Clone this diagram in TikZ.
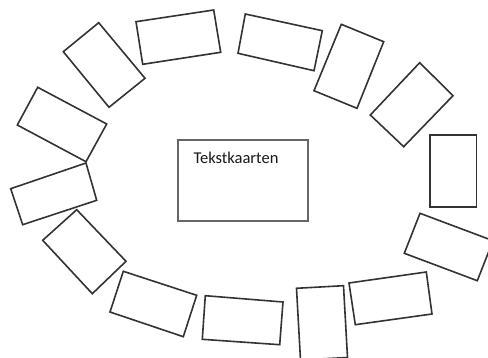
\documentclass[tikz,border=0pt]{standalone}
\usepackage{fontspec}
\setmainfont{Carlito}
\begin{document}
\begin{tikzpicture}[x=1pt,y=-1pt,
  card/.style={draw=black!80, line width=1.6pt, line join=miter},
  mainbox/.style={draw=black!60, line width=2pt, fill=white, minimum width=130.3pt, minimum height=81pt, inner sep=0pt},
  lbl/.style={font=\fontsize{16.5}{18}\selectfont, text=black!90, inner sep=0pt, anchor=base west}]
\useasboundingbox (0,0) rectangle (488,358);
\begin{scope}
\clip (0,0) rectangle (488,358);
% cards around the ellipse
\draw[card] (63.3,51.7) -- (98.7,22.7) -- (145,78.3) -- (109,107.3) -- cycle;
\draw[card] (136,21.7) -- (213.7,10) -- (220.7,52.3) -- (142.7,64.3) -- cycle;
\draw[card] (245.3,14) -- (322.3,30.7) -- (314,70.7) -- (238,53.3) -- cycle;
\draw[card] (341.3,24.3) -- (383.7,41.7) -- (357,108.3) -- (314,90.7) -- cycle;
\draw[card] (419.7,62.7) -- (453,95.7) -- (403.7,146.7) -- (370.3,115) -- cycle;
\draw[card] (429.7,135) -- (476.3,135) -- (476.3,207.3) -- (429.7,207.3) -- cycle;
\draw[card] (420,213.3) -- (493,240.7) -- (477.3,280.7) -- (404.3,253.3) -- cycle;
\draw[card] (349,283) -- (426.3,272) -- (432,314) -- (355.3,324.7) -- cycle;
\draw[card] (296.5,288.3) -- (343.5,285.7) -- (347.5,357.5) -- (300.5,360) -- cycle;
\draw[card] (205.3,295.7) -- (283,302) -- (279.7,344.7) -- (202.3,339.3) -- cycle;
\draw[card] (123.3,271.3) -- (196.7,295.3) -- (183.3,336.7) -- (110,312) -- cycle;
\draw[card] (76.7,209.7) -- (126,261.3) -- (92.3,293.7) -- (42.7,240.3) -- cycle;
\draw[card] (10.7,188.7) -- (86,163) -- (96.7,200.3) -- (22.7,224.7) -- cycle;
\draw[card] (37.7,87.3) -- (106.7,124) -- (86,161.7) -- (17.3,125) -- cycle;
\end{scope}
% central box
\node[mainbox, anchor=north west] (center) at (176.7,139.3) {};
\node[lbl] (title) at (193.3,163.3) {Tekstkaarten};
\end{tikzpicture}
\end{document}
